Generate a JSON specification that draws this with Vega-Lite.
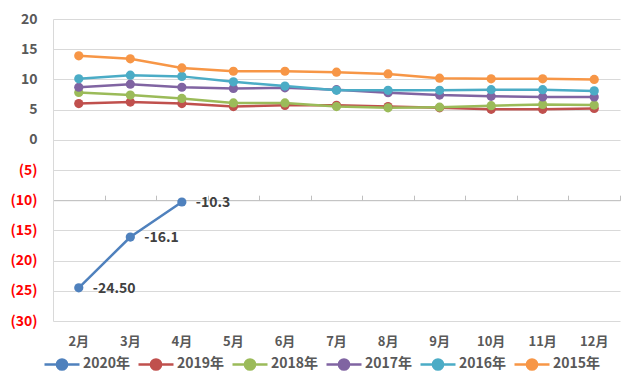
{
  "$schema": "https://vega.github.io/schema/vega-lite/v6.json",
  "width": 567,
  "height": 302,
  "autosize": "none",
  "padding": {"left": 53, "top": 19, "right": 20, "bottom": 57},
  "background": "#ffffff",
  "config": {
    "view": {"stroke": null},
    "font": "Noto Sans CJK SC"
  },
  "data": {
    "values": [
      {"month": "2月", "year": "2020年", "value": -24.5, "label": "-24.50"},
      {"month": "3月", "year": "2020年", "value": -16.1, "label": "-16.1"},
      {"month": "4月", "year": "2020年", "value": -10.3, "label": "-10.3"},
      {"month": "2月", "year": "2019年", "value": 6.0},
      {"month": "3月", "year": "2019年", "value": 6.25},
      {"month": "4月", "year": "2019年", "value": 6.0},
      {"month": "5月", "year": "2019年", "value": 5.5},
      {"month": "6月", "year": "2019年", "value": 5.7},
      {"month": "7月", "year": "2019年", "value": 5.7},
      {"month": "8月", "year": "2019年", "value": 5.5},
      {"month": "9月", "year": "2019年", "value": 5.3},
      {"month": "10月", "year": "2019年", "value": 5.05},
      {"month": "11月", "year": "2019年", "value": 5.05},
      {"month": "12月", "year": "2019年", "value": 5.2},
      {"month": "2月", "year": "2018年", "value": 7.85},
      {"month": "3月", "year": "2018年", "value": 7.4},
      {"month": "4月", "year": "2018年", "value": 6.85},
      {"month": "5月", "year": "2018年", "value": 6.1},
      {"month": "6月", "year": "2018年", "value": 6.1},
      {"month": "7月", "year": "2018年", "value": 5.5},
      {"month": "8月", "year": "2018年", "value": 5.3},
      {"month": "9月", "year": "2018年", "value": 5.4},
      {"month": "10月", "year": "2018年", "value": 5.65},
      {"month": "11月", "year": "2018年", "value": 5.85},
      {"month": "12月", "year": "2018年", "value": 5.75},
      {"month": "2月", "year": "2017年", "value": 8.7},
      {"month": "3月", "year": "2017年", "value": 9.2},
      {"month": "4月", "year": "2017年", "value": 8.7},
      {"month": "5月", "year": "2017年", "value": 8.5},
      {"month": "6月", "year": "2017年", "value": 8.6},
      {"month": "7月", "year": "2017年", "value": 8.3},
      {"month": "8月", "year": "2017年", "value": 7.8},
      {"month": "9月", "year": "2017年", "value": 7.4},
      {"month": "10月", "year": "2017年", "value": 7.2},
      {"month": "11月", "year": "2017年", "value": 7.1},
      {"month": "12月", "year": "2017年", "value": 7.1},
      {"month": "2月", "year": "2016年", "value": 10.1},
      {"month": "3月", "year": "2016年", "value": 10.7},
      {"month": "4月", "year": "2016年", "value": 10.5},
      {"month": "5月", "year": "2016年", "value": 9.6},
      {"month": "6月", "year": "2016年", "value": 8.9},
      {"month": "7月", "year": "2016年", "value": 8.2},
      {"month": "8月", "year": "2016年", "value": 8.2},
      {"month": "9月", "year": "2016年", "value": 8.2},
      {"month": "10月", "year": "2016年", "value": 8.3},
      {"month": "11月", "year": "2016年", "value": 8.3},
      {"month": "12月", "year": "2016年", "value": 8.1},
      {"month": "2月", "year": "2015年", "value": 13.9},
      {"month": "3月", "year": "2015年", "value": 13.4},
      {"month": "4月", "year": "2015年", "value": 11.9},
      {"month": "5月", "year": "2015年", "value": 11.35},
      {"month": "6月", "year": "2015年", "value": 11.35},
      {"month": "7月", "year": "2015年", "value": 11.2},
      {"month": "8月", "year": "2015年", "value": 10.9},
      {"month": "9月", "year": "2015年", "value": 10.2},
      {"month": "10月", "year": "2015年", "value": 10.1},
      {"month": "11月", "year": "2015年", "value": 10.1},
      {"month": "12月", "year": "2015年", "value": 10.0}
    ]
  },
  "resolve": {"axis": {"x": "independent"}},
  "encoding": {
    "y": {
      "field": "value", "type": "quantitative",
      "scale": {"domain": [-30, 20], "nice": false, "zero": false},
      "axis": {
        "title": null, "values": [-30,-25,-20,-15,-10,-5,0,5,10,15,20],
        "labelOverlap": false,
        "ticks": false, "domain": true, "domainColor": "#D9D9D9",
        "grid": true, "gridColor": "#D9D9D9", "gridWidth": 1,
        "labelFontSize": 14, "labelFontWeight": "bold", "labelPadding": 16,
        "labelExpr": "datum.value < 0 ? '(' + (-datum.value) + ')' : datum.label",
        "labelColor": {"condition": {"test": "datum.value < 0", "value": "#FF0000"}, "value": "#595959"}
      }
    }
  },
  "layer": [
    {
      "mark": {"type": "line", "strokeWidth": 2.5, "point": {"filled": true, "size": 85, "opacity": 1}},
      "encoding": {
        "x": {
          "field": "month", "type": "ordinal",
          "sort": ["2月","3月","4月","5月","6月","7月","8月","9月","10月","11月","12月"],
          "scale": {"type": "band", "paddingInner": 0, "paddingOuter": 0},
          "axis": {
            "title": null, "domain": false, "ticks": false, "grid": false,
            "labelAngle": 0, "labelFontSize": 13, "labelFontWeight": "bold",
            "labelColor": "#595959", "labelPadding": 14
          }
        },
        "color": {
          "field": "year", "type": "nominal",
          "scale": {
            "domain": ["2020年","2019年","2018年","2017年","2016年","2015年"],
            "range": ["#4F81BD","#C0504D","#9BBB59","#8064A2","#4BACC6","#F79646"]
          },
          "legend": {
            "title": null, "orient": "none", "legendX": -10, "legendY": 326,
            "direction": "horizontal", "columns": 6,
            "symbolType": "M-1,0L1,0M-0.29,0A0.29,0.29,0,1,1,0.29,0A0.29,0.29,0,1,1,-0.29,0Z",
            "symbolSize": 1225, "symbolStrokeWidth": 2.5,
            "labelFontSize": 14, "labelFontWeight": "bold", "labelColor": "#595959",
            "labelOffset": 2, "columnPadding": 2,
            "encode": {"symbols": {"update": {"fill": {"scale": "color", "field": "value"}, "stroke": {"scale": "color", "field": "value"}, "opacity": {"value": 1}}}}
          }
        }
      }
    },
    {
      "transform": [{"filter": "isValid(datum.label)"}],
      "mark": {"type": "text", "align": "left", "baseline": "middle", "dx": 14, "dy": 1, "fontSize": 14, "fontWeight": "bold", "color": "#404040"},
      "encoding": {
        "x": {
          "field": "month", "type": "ordinal",
          "sort": ["2月","3月","4月","5月","6月","7月","8月","9月","10月","11月","12月"],
          "axis": {
            "title": null, "labels": false, "grid": false, "offset": -181.2,
            "domain": true, "domainColor": "#BFBFBF", "domainWidth": 1,
            "ticks": true, "tickBand": "extent", "tickSize": 5, "tickColor": "#BFBFBF"
          }
        },
        "text": {"field": "label"}
      }
    }
  ]
}
